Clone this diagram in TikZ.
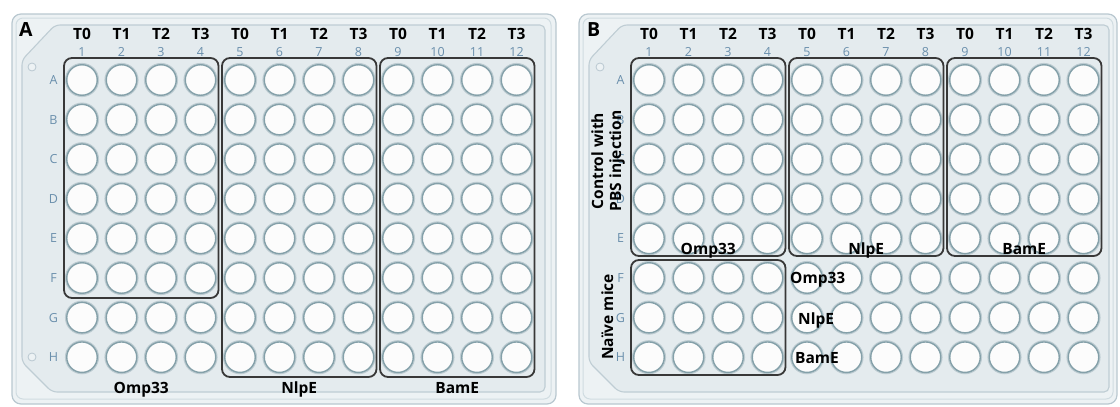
\documentclass[tikz,border=0pt]{standalone}
\usepackage{fontspec}
\setmainfont{Open Sans}
\definecolor{rimfill}{HTML}{EDF2F4}
\definecolor{rimline}{HTML}{B9C8D0}
\definecolor{rimline2}{HTML}{D0DCE1}
\definecolor{bodyfill}{HTML}{E4EBEE}
\definecolor{bodyline}{HTML}{BFCDD4}
\definecolor{wellfill}{HTML}{FCFCFC}
\definecolor{wellline}{HTML}{84A0A9}
\definecolor{wellhalo}{HTML}{BCCBD1}
\definecolor{idx}{HTML}{6A8FAC}
\definecolor{boxline}{HTML}{383838}
\tikzset{
  rim/.style={fill=rimfill, draw=rimline, line width=1.2pt, rounded corners=9pt},
  rimin/.style={draw=rimline2, line width=1pt, rounded corners=7pt},
  platebody/.style={fill=bodyfill, draw=bodyline, line width=1.1pt, rounded corners=5pt},
  well/.style={circle, draw=wellline, line width=1.4pt, fill=wellfill,
    minimum size=30.5pt, inner sep=0pt,
    preaction={draw=wellhalo, line width=3.6pt}},
  hole/.style={circle, draw=rimline, fill=rimfill, minimum size=8pt, inner sep=0pt, line width=0.8pt},
  grp/.style={draw=boxline, line width=1.8pt, rounded corners=8pt},
  tlab/.style={font=\fontsize{15.5}{15.5}\selectfont\bfseries, inner sep=0pt, anchor=base},
  idxlab/.style={font=\fontsize{12.5}{12.5}\selectfont, text=idx, inner sep=0pt, anchor=base},
  glab/.style={font=\fontsize{15.5}{18}\selectfont\bfseries, inner sep=0pt},
  panel/.style={font=\fontsize{19.5}{19.5}\selectfont\bfseries, inner sep=0pt, anchor=base west},
}
\begin{document}
\begin{tikzpicture}[x=1pt,y=-1pt]
\useasboundingbox[fill=white] (0,0) rectangle (1120,407);

% ---- plate frames ----
\draw[rim] (12,14) rectangle (556,404);
\draw[rimin] (16,18) rectangle (551,399);
\draw[platebody] (22,60) -- (55,25) -- (545,25) -- (545,392) -- (52,392) -- (22,362) -- cycle;
\node[hole] (pa-hole1) at (32,67) {};
\node[hole] (pa-hole2) at (32,357) {};

\draw[rim] (579,14) rectangle (1117,404);
\draw[rimin] (583,18) rectangle (1113,399);
\draw[platebody] (589,60) -- (622,25) -- (1109,25) -- (1109,392) -- (619,392) -- (589,362) -- cycle;
\node[hole] (pb-hole1) at (600,67) {};

% ---- wells and row letters ----
\foreach \r [count=\i] in {A,B,C,D,E,F,G,H} {
  \foreach \c in {1,...,12} {
    \node[well] (pa-\r\c) at ({82+(\c-1)*39.5}, {80+(\i-1)*39.6}) {};
    \node[well] (pb-\r\c) at ({649+(\c-1)*39.5}, {80+(\i-1)*39.6}) {};
  }
  \node[idxlab] (pa-row\r) at (53.5, {84.5+(\i-1)*39.6}) {\r};
  \node[idxlab] (pb-row\r) at (620.5, {84.5+(\i-1)*39.6}) {\r};
}

% ---- column numbers and time points ----
\foreach \c in {1,...,12} {
  \pgfmathtruncatemacro\t{mod(\c-1,4)}
  \node[idxlab] (pa-col\c) at ({82+(\c-1)*39.5}, 56) {\c};
  \node[idxlab] (pb-col\c) at ({649+(\c-1)*39.5}, 56) {\c};
  \node[tlab] (pa-t\c) at ({82+(\c-1)*39.5}, 39.5) {T\t};
  \node[tlab] (pb-t\c) at ({649+(\c-1)*39.5}, 39.5) {T\t};
}

% ---- panel letters ----
\node[panel] (panelA) at (19,36) {A};
\node[panel] (panelB) at (587,36) {B};

% ---- plate A groups ----
\draw[grp] (64,58) rectangle (218.5,298);
\draw[grp] (222,58) rectangle (376.5,377);
\draw[grp] (380,58) rectangle (534.5,377);
\node[glab, anchor=base] (pa-omp) at (141.25,393) {Omp33};
\node[glab, anchor=base] (pa-nlp) at (299.25,393) {NlpE};
\node[glab, anchor=base] (pa-bam) at (457.25,393) {BamE};

% ---- plate B groups ----
\draw[grp] (631,58) rectangle (785.5,256);
\draw[grp] (789,58) rectangle (943.5,256);
\draw[grp] (947,58) rectangle (1101.5,256);
\draw[grp] (631,260) rectangle (785.5,375);
\node[glab, anchor=base] (pb-omp) at (708.25,254) {Omp33};
\node[glab, anchor=base] (pb-nlp) at (866.25,254) {NlpE};
\node[glab, anchor=base] (pb-bam) at (1024.25,254) {BamE};
\node[glab, anchor=base west] (pb-omp2) at (790,283) {Omp33};
\node[glab, anchor=base west] (pb-nlp2) at (798,324) {NlpE};
\node[glab, anchor=base west] (pb-bam2) at (795,363) {BamE};

% ---- condition labels ----
\node[glab, rotate=90, align=center] (ctrl) at (608,161) {Control with\\PBS injection};
\node[glab, rotate=90, anchor=base] (naive) at (613,317) {Naïve mice};
\end{tikzpicture}
\end{document}
